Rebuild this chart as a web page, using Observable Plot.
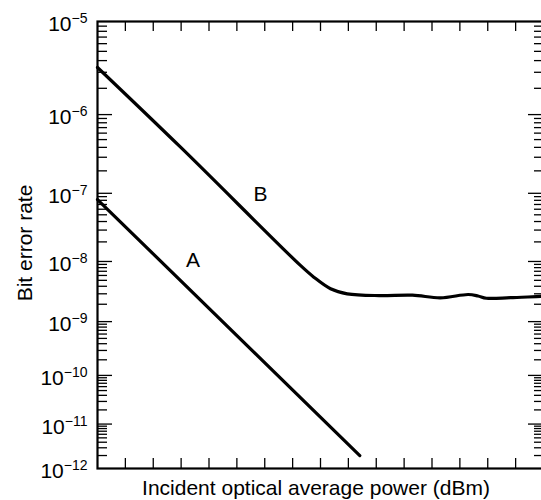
<!DOCTYPE html>
<html><head><meta charset="utf-8">
<script src="https://cdn.jsdelivr.net/npm/d3@7"></script>
<script src="https://cdn.jsdelivr.net/npm/@observablehq/plot@0.6"></script>
<style>
html,body{margin:0;padding:0;background:#fff;overflow:hidden;}
#chart{width:541px;height:500px;overflow:hidden;}
</style></head><body><div id="chart"></div>
<script>
// ---- data ----
const xTicks = [1, 2, 3, 4, 5, 6, 7, 8, 9, 10, 11, 12, 13, 14, 15];
const majorBER = [1e-5, 1e-6, 1e-7, 1e-8, 1e-9, 1e-10, 1e-11, 1e-12];
const minorMult = [2, 3, 4, 5, 6, 7, 8, 9];
const decades = [-12, -11, -10, -9, -8, -7, -6];

const curveAx = [0, 9.41];
const curveAy = [8.2e-8, 2.0e-12];

const curveBx = [0, 2.98, 7.28, 7.76, 8.36, 8.96, 10.1, 11.3, 12.3, 13.3, 13.65, 13.95, 14.8, 15.9, 16];
const curveBy = [3.38e-6, 4.02e-7, 8.66e-9, 5.63e-9, 3.64e-9, 3.0e-9, 2.8e-9, 2.85e-9, 2.56e-9, 2.92e-9, 2.76e-9, 2.53e-9, 2.58e-9, 2.71e-9, 2.71e-9];

const labelText = ["A", "B"];
const labelX = [3.43, 5.85];
const labelY = [1.04e-8, 9.8e-8];

const xLabel = "Incident optical average power (dBm)";
const yLabel = "Bit error rate";

// ---- scale helper: BER axis is log(-log(BER)) ----
const q = v => Math.log10(-Math.log10(v));

const W = 541, H = 500, mL = 97, mR = -2, mT = 21, mB = 32;
const plotW = W - mL - mR, plotH = H - mT - mB;

const A = curveAx.map((x, i) => ({x, y: q(curveAy[i])}));
const B = curveBx.map((x, i) => ({x, y: q(curveBy[i])}));
const minors = decades.flatMap(d => minorMult.map(m => m * Math.pow(10, d)));
const majorInner = majorBER.slice(1, -1);
const labels = labelText.map((t, i) => ({t, x: labelX[i], y: q(labelY[i])}));

const font = "'Liberation Sans', Arial, Helvetica, sans-serif";
const tickStyle = {stroke: "black", strokeWidth: 1.3};

const svg = Plot.plot({
  width: W, height: H,
  marginLeft: mL, marginRight: mR, marginTop: mT, marginBottom: mB,
  style: {fontFamily: font, background: "white", color: "black"},
  x: {domain: [0, 16], axis: null},
  y: {type: "linear", domain: [q(1e-12), q(1e-5)], axis: null},
  marks: [
    Plot.tickY(majorInner, {y: q, insetRight: plotW - 15, ...tickStyle}),
    Plot.tickY(minors, {y: q, insetRight: plotW - 10, ...tickStyle}),
    Plot.tickY(majorInner, {y: q, insetLeft: plotW - 15, ...tickStyle}),
    Plot.tickY(minors, {y: q, insetLeft: plotW - 9, ...tickStyle}),
    Plot.tickX(xTicks, {x: d => d, insetBottom: plotH - 10, ...tickStyle}),
    Plot.tickX(xTicks, {x: d => d, insetTop: plotH - 10, ...tickStyle}),
    Plot.line(A, {x: "x", y: "y", stroke: "black", strokeWidth: 3.2}),
    Plot.line(B, {x: "x", y: "y", stroke: "black", strokeWidth: 3.2, curve: "catmull-rom"}),
    Plot.frame({stroke: "black", strokeWidth: 2.2}),
    Plot.text(labels, {x: "x", y: "y", text: "t", fontSize: 21, fill: "black"}),
    Plot.axisY({
      ticks: majorBER.map(q), tickSize: 0, tickPadding: 10, dy: 3,
      tickFormat: d => "10\u2212" + Math.round(Math.pow(10, d)),
      fontSize: 21, label: null, fill: "black"
    }),
    Plot.text([xLabel], {frameAnchor: "bottom", textAnchor: "middle", lineAnchor: "middle", dy: 20, dx: -4.5, fontSize: 21, fill: "black"}),
    Plot.text([yLabel], {frameAnchor: "left", textAnchor: "middle", lineAnchor: "middle", rotate: -90, dx: -72.5, dy: -2, fontSize: 21, fill: "black"})
  ]
});

// superscript exponents
const ns = "http://www.w3.org/2000/svg";
svg.querySelectorAll('[aria-label="y-axis tick label"] text').forEach(t => {
  const s = t.textContent;
  const exp = s.slice(2);
  t.textContent = "";
  const a = document.createElementNS(ns, "tspan");
  a.textContent = "10";
  const b = document.createElementNS(ns, "tspan");
  b.setAttribute("font-size", "14");
  b.setAttribute("dy", "-8");
  b.textContent = exp;
  t.append(a, b);
});

document.getElementById("chart").append(svg);
</script></body></html>
